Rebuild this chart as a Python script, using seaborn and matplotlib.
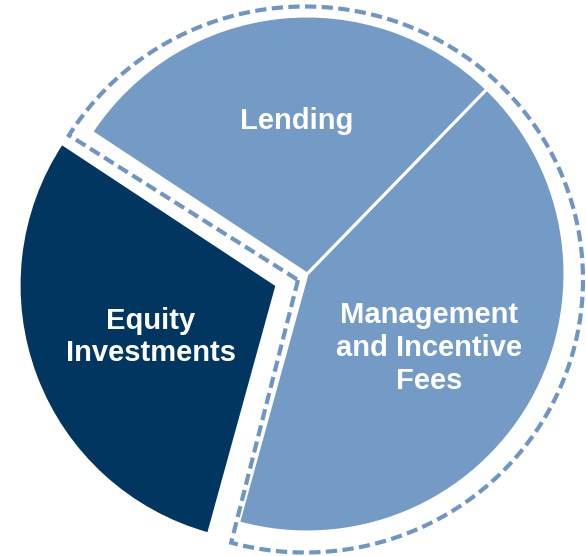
import matplotlib
matplotlib.use("Agg")
import numpy as np
import matplotlib.pyplot as plt
from matplotlib.patches import Polygon
import seaborn as sns

# data (share of revenue, %)
segments = ["Management and Incentive Fees", "Lending", "Equity Investments"]
shares = [42, 28, 30]
label_text = ["Management\nand Incentive\nFees", "Lending", "Equity\nInvestments"]
label_pos = [(429, 208), (297, 435), (151, 219)]  # pixel x, y-up

sns.set_theme(style="white")
plt.rcParams['font.family'] = ['Liberation Sans', 'DejaVu Sans']

light_blue = "#739bc6"
navy = "#003660"
colors = [light_blue, light_blue, navy]

W, H = 586, 556
fig = plt.figure(figsize=(W / 100, H / 100), dpi=100)
ax = fig.add_axes([0, 0, 1, 1])

start = -105.4
center = (307, H - 274)
radius = 258

# explode is in data units here (pixels)
ax.pie(shares, colors=colors, startangle=start, counterclock=True,
       center=center, radius=radius, explode=[0, 0, 32],
       wedgeprops={'edgecolor': 'white', 'linewidth': 2.2})

# dashed outline around the grouped Lending + Management slices
group_end = start + 360 * (shares[0] + shares[1]) / sum(shares)
theta = np.radians(np.linspace(start, group_end + 1.5, 200))
ex, ey, rx, ry = 305, H - 279.5, 278, 273
arc = np.column_stack([ex + rx * np.cos(theta), ey + ry * np.sin(theta)])
corner = np.array([[298, H - 280]])
outline = Polygon(np.vstack([corner, arc]), closed=True, fill=False,
                  edgecolor="#6f95c3", linewidth=3.0,
                  linestyle=(0, (2.7, 1.3)), joinstyle='miter')
ax.add_patch(outline)

for txt, (x, y) in zip(label_text, label_pos):
    ax.text(x, y, txt, ha='center', va='center', color='white',
            fontsize=21, fontweight='bold', linespacing=1.22)

ax.set_xlim(0, W)
ax.set_ylim(0, H)
ax.set_aspect('equal')
ax.axis('off')

fig.savefig("out.png", dpi=100)
